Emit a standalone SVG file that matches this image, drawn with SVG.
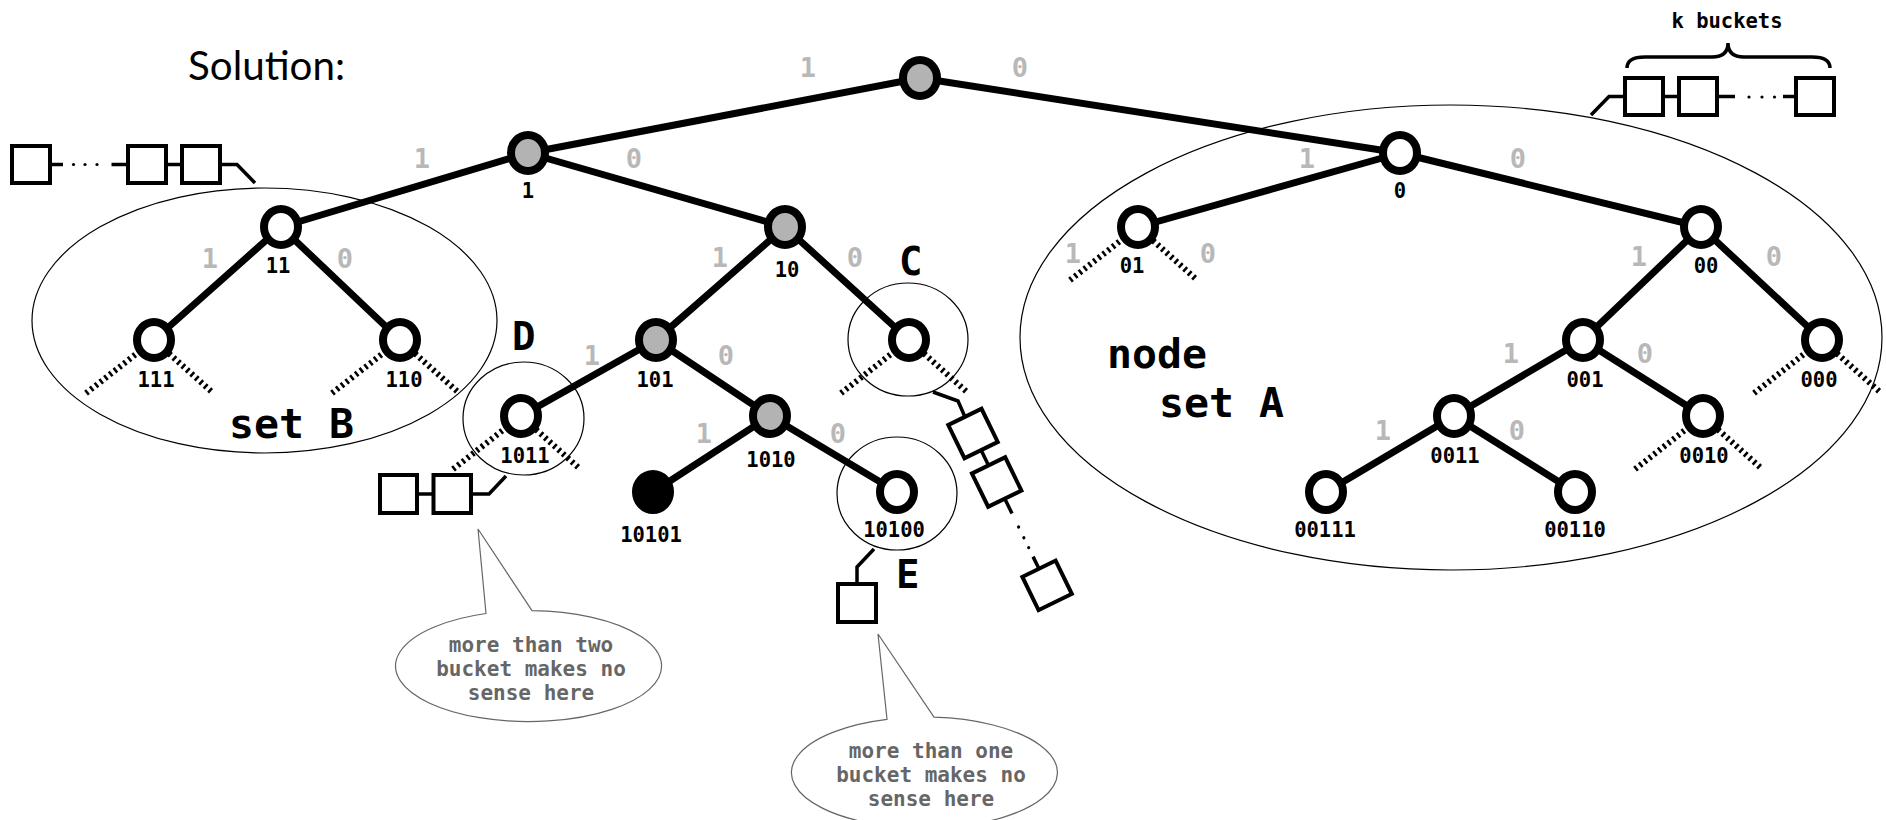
<svg xmlns="http://www.w3.org/2000/svg" width="1886" height="820" viewBox="0 0 1886 820">
  <style>
    .bg { fill: #ffffff; }
    .outline { fill: none; stroke: #000; stroke-width: 1.2; }
    .edge { stroke: #000; stroke-width: 7; stroke-linecap: round; fill: none; }
    .stub { stroke: #000; stroke-width: 6; stroke-dasharray: 2.5 3.5; fill: none; }
    .node { stroke: #000; stroke-width: 8; fill: #fff; }
    .visited { fill: #b3b3b3; }
    .target { fill: #000; }
    .bit { font-family: "DejaVu Sans Mono", "Liberation Mono", monospace; font-weight: bold; font-size: 27px; fill: #b8b8b8; text-anchor: middle; }
    .id { font-family: "DejaVu Sans Mono", "Liberation Mono", monospace; font-weight: bold; font-size: 20.5px; fill: #000; text-anchor: middle; }
    .big { font-family: "DejaVu Sans Mono", "Liberation Mono", monospace; font-weight: bold; font-size: 41.5px; fill: #000; }
    .letter { font-family: "DejaVu Sans Mono", "Liberation Mono", monospace; font-weight: bold; font-size: 39px; fill: #000; }
    .bucket { fill: #fff; stroke: #000; stroke-width: 4; }
    .link { stroke: #000; stroke-width: 3.5; fill: none; }
    .bubble { fill: #fff; stroke: #666; stroke-width: 1.2; }
    .note { font-family: "DejaVu Sans Mono", "Liberation Mono", monospace; font-weight: bold; font-size: 21px; fill: #666; text-anchor: middle; }
  </style>
  <defs>
    <!-- pair of hatched stubs for a subtree that is not drawn -->
    <g id="stubs">
      <path class="stub" d="M-14,11 L-69,54"/>
      <path class="stub" d="M15,13.5 L59,53"/>
    </g>
  </defs>

  <rect class="bg" x="0" y="0" width="1886" height="820"/>

  <text x="188" y="80" font-family="Lato, 'Open Sans', sans-serif" font-size="40" textLength="157" lengthAdjust="spacingAndGlyphs" fill="#000">Solution:</text>

  <!-- sets and highlight circles -->
  <g id="groups">
    <ellipse class="outline" cx="264.5" cy="320.5" rx="232.5" ry="132.5"/>
    <ellipse class="outline" cx="1451" cy="337.5" rx="431" ry="232.5"/>
    <ellipse class="outline" cx="523.5" cy="418.5" rx="60.5" ry="56.5"/>
    <ellipse class="outline" cx="908" cy="339.5" rx="60" ry="56.5"/>
    <ellipse class="outline" cx="897" cy="493.5" rx="60" ry="56.5"/>
  </g>

  <!-- tree edges -->
  <g id="connectors">
    <line class="edge" x1="920" y1="78" x2="528" y2="153"/>
    <line class="edge" x1="920" y1="78" x2="1400" y2="153"/>
    <line class="edge" x1="528" y1="153" x2="281" y2="227"/>
    <line class="edge" x1="528" y1="153" x2="785" y2="227"/>
    <line class="edge" x1="1400" y1="153" x2="1138" y2="227"/>
    <line class="edge" x1="1400" y1="153" x2="1701" y2="227"/>
    <line class="edge" x1="281" y1="227" x2="154" y2="340"/>
    <line class="edge" x1="281" y1="227" x2="400" y2="340"/>
    <line class="edge" x1="785" y1="227" x2="656" y2="340"/>
    <line class="edge" x1="785" y1="227" x2="909" y2="340"/>
    <line class="edge" x1="656" y1="340" x2="521" y2="416"/>
    <line class="edge" x1="656" y1="340" x2="770" y2="416"/>
    <line class="edge" x1="770" y1="416" x2="653" y2="492"/>
    <line class="edge" x1="770" y1="416" x2="897" y2="492"/>
    <line class="edge" x1="1701" y1="227" x2="1583" y2="340"/>
    <line class="edge" x1="1701" y1="227" x2="1822" y2="340"/>
    <line class="edge" x1="1583" y1="340" x2="1454" y2="416"/>
    <line class="edge" x1="1583" y1="340" x2="1703" y2="416"/>
    <line class="edge" x1="1454" y1="416" x2="1326" y2="492"/>
    <line class="edge" x1="1454" y1="416" x2="1575" y2="492"/>
    <use href="#stubs" x="1138" y="227"/>
    <use href="#stubs" x="154" y="340"/>
    <use href="#stubs" x="400" y="340"/>
    <use href="#stubs" x="521" y="416"/>
    <use href="#stubs" x="909" y="340"/>
    <use href="#stubs" x="1822" y="340"/>
    <use href="#stubs" x="1703" y="416"/>
  </g>

  <!-- edge bits -->
  <g id="bits">
    <text class="bit" x="808" y="77">1</text><text class="bit" x="1020" y="77">0</text>
    <text class="bit" x="422" y="168">1</text><text class="bit" x="634" y="168">0</text>
    <text class="bit" x="1307" y="168">1</text><text class="bit" x="1518" y="168">0</text>
    <text class="bit" x="210" y="268">1</text><text class="bit" x="345" y="268">0</text>
    <text class="bit" x="720" y="267">1</text><text class="bit" x="855" y="267">0</text>
    <text class="bit" x="1073" y="263">1</text><text class="bit" x="1208" y="263">0</text>
    <text class="bit" x="1639" y="266">1</text><text class="bit" x="1774" y="266">0</text>
    <text class="bit" x="592" y="365">1</text><text class="bit" x="726" y="365">0</text>
    <text class="bit" x="704" y="443">1</text><text class="bit" x="838" y="443">0</text>
    <text class="bit" x="1511" y="363">1</text><text class="bit" x="1645" y="363">0</text>
    <text class="bit" x="1383" y="440">1</text><text class="bit" x="1517" y="440">0</text>
  </g>

  <!-- tree nodes -->
  <g id="n-root"><ellipse class="node visited" cx="920" cy="78" rx="17" ry="18"/></g>
  <g id="n-1"><ellipse class="node visited" cx="528" cy="153" rx="17" ry="18"/><text class="id" x="528" y="198">1</text></g>
  <g id="n-0"><ellipse class="node" cx="1400" cy="153" rx="17" ry="18"/><text class="id" x="1400" y="198">0</text></g>
  <g id="n-11"><ellipse class="node" cx="281" cy="227" rx="17" ry="18"/><text class="id" x="278" y="273">11</text></g>
  <g id="n-10"><ellipse class="node visited" cx="785" cy="227" rx="17" ry="18"/><text class="id" x="787" y="277">10</text></g>
  <g id="n-01"><ellipse class="node" cx="1138" cy="227" rx="17" ry="18"/><text class="id" x="1132" y="273">01</text></g>
  <g id="n-00"><ellipse class="node" cx="1701" cy="227" rx="17" ry="18"/><text class="id" x="1706" y="273">00</text></g>
  <g id="n-111"><ellipse class="node" cx="154" cy="340" rx="17" ry="18"/><text class="id" x="156" y="387">111</text></g>
  <g id="n-110"><ellipse class="node" cx="400" cy="340" rx="17" ry="18"/><text class="id" x="404" y="387">110</text></g>
  <g id="n-101"><ellipse class="node visited" cx="656" cy="340" rx="17" ry="18"/><text class="id" x="655" y="387">101</text></g>
  <g id="n-100"><ellipse class="node" cx="909" cy="340" rx="17" ry="18"/></g>
  <g id="n-001"><ellipse class="node" cx="1583" cy="340" rx="17" ry="18"/><text class="id" x="1585" y="387">001</text></g>
  <g id="n-000"><ellipse class="node" cx="1822" cy="340" rx="17" ry="18"/><text class="id" x="1819" y="387">000</text></g>
  <g id="n-1011"><ellipse class="node" cx="521" cy="416" rx="17" ry="18"/><text class="id" x="525" y="463">1011</text></g>
  <g id="n-1010"><ellipse class="node visited" cx="770" cy="416" rx="17" ry="18"/><text class="id" x="771" y="467">1010</text></g>
  <g id="n-0011"><ellipse class="node" cx="1454" cy="416" rx="17" ry="18"/><text class="id" x="1455" y="463">0011</text></g>
  <g id="n-0010"><ellipse class="node" cx="1703" cy="416" rx="17" ry="18"/><text class="id" x="1704" y="463">0010</text></g>
  <g id="n-10101"><ellipse class="node target" cx="653" cy="492" rx="17" ry="18"/><text class="id" x="651" y="542">10101</text></g>
  <g id="n-10100"><ellipse class="node" cx="897" cy="492" rx="17" ry="18"/><text class="id" x="894" y="537">10100</text></g>
  <g id="n-00111"><ellipse class="node" cx="1326" cy="492" rx="17" ry="18"/><text class="id" x="1325" y="537">00111</text></g>
  <g id="n-00110"><ellipse class="node" cx="1575" cy="492" rx="17" ry="18"/><text class="id" x="1575" y="537">00110</text></g>

  <!-- set and region labels -->
  <g id="labels">
    <text class="big" x="229" y="438">set B</text>
    <text class="big" x="1107" y="368">node</text>
    <text class="big" x="1159" y="417">set A</text>
    <text class="letter" x="899" y="275">C</text>
    <text class="letter" x="512" y="350">D</text>
    <text class="letter" x="896" y="588">E</text>
  </g>

  <!-- k-bucket list for set B -->
  <g id="buckets-b">
    <rect class="bucket" x="12" y="146" width="38" height="37"/>
    <line class="link" x1="50" y1="164.5" x2="63" y2="164.5"/>
    <circle cx="73.5" cy="164.5" r="1.6"/><circle cx="85" cy="164.5" r="1.6"/><circle cx="97" cy="164.5" r="1.6"/>
    <line class="link" x1="111.5" y1="164.5" x2="128" y2="164.5"/>
    <rect class="bucket" x="128" y="146" width="38" height="37"/>
    <line class="link" x1="166" y1="164.5" x2="182" y2="164.5"/>
    <rect class="bucket" x="182" y="146" width="38" height="37"/>
    <path class="link" d="M220,164.5 L237,164.5 L255,183"/>
  </g>

  <!-- k-bucket list for set A -->
  <g id="buckets-a">
    <path class="link" d="M1591,115 L1609,96.5 L1625,96.5"/>
    <rect class="bucket" x="1625" y="78" width="38" height="37"/>
    <line class="link" x1="1663" y1="96.5" x2="1679" y2="96.5"/>
    <rect class="bucket" x="1679" y="78" width="38" height="37"/>
    <line class="link" x1="1717" y1="96.5" x2="1735" y2="96.5"/>
    <circle cx="1749" cy="97" r="1.6"/><circle cx="1762" cy="97" r="1.6"/><circle cx="1774.5" cy="97" r="1.6"/>
    <line class="link" x1="1783" y1="96.5" x2="1796" y2="96.5"/>
    <rect class="bucket" x="1796" y="78" width="38" height="37"/>
    <path class="link" d="M1627,68 Q1627,57 1645,57 L1712,57 Q1728,57 1728,43 Q1728,57 1744,57 L1812,57 Q1830,57 1830,68"/>
    <text class="id" x="1727" y="28" font-size="20.5">k buckets</text>
  </g>

  <!-- bucket list for subtree C -->
  <g id="buckets-c">
    <path class="link" d="M933,392 L958,401 L965,417"/>
    <g transform="translate(973,433.5) rotate(-26)">
      <rect class="bucket" x="-18.5" y="-18.5" width="37" height="37"/>
      <line class="link" x1="0" y1="18.5" x2="0" y2="35.5"/>
      <rect class="bucket" x="-18.5" y="35.5" width="37" height="37"/>
      <line class="link" x1="0" y1="72.5" x2="0" y2="89"/>
      <circle cx="0" cy="104" r="1.6"/><circle cx="0" cy="116" r="1.6"/><circle cx="0" cy="127" r="1.6"/>
      <line class="link" x1="0" y1="137" x2="0" y2="150.5"/>
      <rect class="bucket" x="-18.5" y="150.5" width="37" height="37"/>
    </g>
  </g>

  <!-- bucket list for subtree D -->
  <g id="buckets-d">
    <rect class="bucket" x="380" y="475" width="37" height="38"/>
    <line class="link" x1="417" y1="494" x2="433.5" y2="494"/>
    <rect class="bucket" x="433.5" y="475" width="37.5" height="38"/>
    <path class="link" d="M471,494 L489,494 L506,476"/>
  </g>

  <!-- bucket for subtree E -->
  <g id="buckets-e">
    <path class="link" d="M857,584 L857,567 L874,549"/>
    <rect class="bucket" x="838" y="584" width="38" height="38"/>
  </g>

  <!-- callouts -->
  <g id="note-d">
    <path class="bubble" d="M532,610.6 L478,529 L486,613.5 A133,55.5 0 1 0 532,610.6 Z"/>
    <text class="note" x="531" y="652">more than two</text>
    <text class="note" x="531" y="676">bucket makes no</text>
    <text class="note" x="531" y="700">sense here</text>
  </g>
  <g id="note-e">
    <path class="bubble" d="M934,717.2 L878,634 L887,719.3 A133,55.5 0 1 0 934,717.2 Z"/>
    <text class="note" x="931" y="758">more than one</text>
    <text class="note" x="931" y="782">bucket makes no</text>
    <text class="note" x="931" y="806">sense here</text>
  </g>
</svg>
